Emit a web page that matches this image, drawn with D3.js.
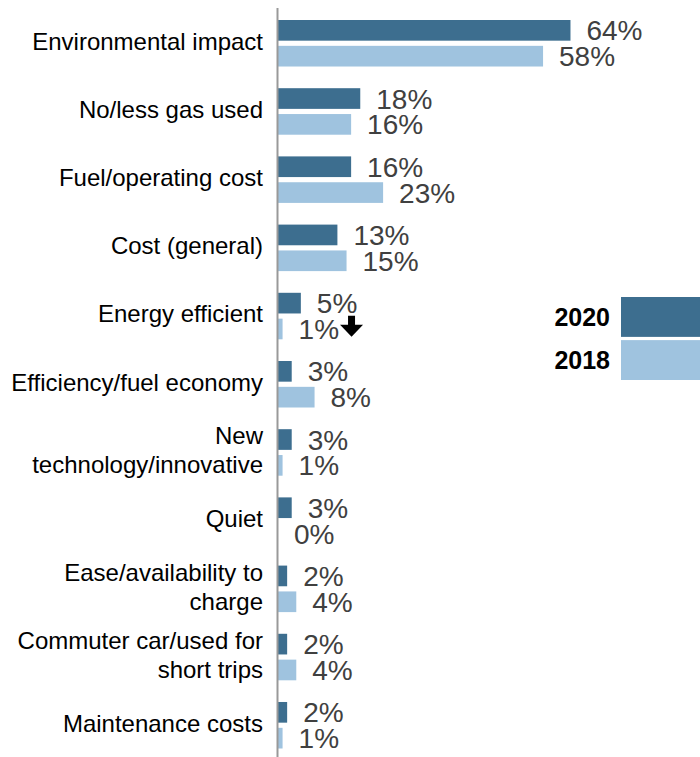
<!DOCTYPE html>
<html>
<head>
<meta charset="utf-8">
<script src="https://cdn.jsdelivr.net/npm/d3@7"></script>
<style>
  html, body { margin: 0; padding: 0; background: #fff; }
  svg { display: block; }
</style>
</head>
<body>
<svg id="chart" width="700" height="757"></svg>
<script>
// Reasons given for choosing an electric vehicle, 2020 vs 2018
const categories = [
  "Environmental impact",
  "No/less gas used",
  "Fuel/operating cost",
  "Cost (general)",
  "Energy efficient",
  "Efficiency/fuel economy",
  "New\ntechnology/innovative",
  "Quiet",
  "Ease/availability to\ncharge",
  "Commuter car/used for\nshort trips",
  "Maintenance costs"
];
const seriesNames = ["2020", "2018"];
const values2020 = [64, 18, 16, 13, 5, 3, 3, 3, 2, 2, 2];
const values2018 = [58, 16, 23, 15, 1, 8, 1, 0, 4, 4, 1];
// categories whose change is flagged with a downward arrow (2018 value)
const flaggedDown = ["Energy efficient"];

const colors = { "2020": "#3d6e8f", "2018": "#9fc3df" };
const font = "'Liberation Sans', Arial, Helvetica, sans-serif";

const svg = d3.select("#chart");

const axisX = 278;
const x = d3.scaleLinear().domain([0, 100]).range([axisX, axisX + 457]);

const y = d3.scaleBand()
  .domain(categories)
  .range([20, 748.5])
  .paddingInner(0.318)
  .paddingOuter(0);

const ySub = d3.scaleBand()
  .domain(seriesNames)
  .range([0, y.bandwidth()])
  .paddingInner(0.2);

const rows = categories.map((c, i) => ({
  category: c,
  values: [
    { series: "2020", value: values2020[i] },
    { series: "2018", value: values2018[i] }
  ]
}));

const groups = svg.append("g").selectAll("g.row")
  .data(rows)
  .join("g")
  .attr("class", "row")
  .attr("transform", d => `translate(0,${y(d.category)})`);

groups.selectAll("rect")
  .data(d => d.values)
  .join("rect")
  .attr("x", x(0))
  .attr("y", d => ySub(d.series))
  .attr("width", d => x(d.value) - x(0))
  .attr("height", ySub.bandwidth())
  .attr("fill", d => colors[d.series]);

// value labels
const valueFs = 28;
groups.selectAll("text.val")
  .data(d => d.values.map(v => Object.assign({ category: d.category }, v)))
  .join("text")
  .attr("class", "val")
  .attr("x", d => x(d.value) + 16)
  .attr("y", d => ySub(d.series) + ySub.bandwidth() / 2 + valueFs * 0.36)
  .attr("font-family", font)
  .attr("font-size", valueFs)
  .attr("fill", "#404040")
  .text(d => d.value + "%");

// downward arrow after flagged 2018 labels
groups.filter(d => flaggedDown.includes(d.category))
  .each(function (d) {
    const v = d.values.find(s => s.series === "2018");
    const g = d3.select(this);
    const lbl = g.selectAll("text.val").filter(t => t.series === "2018");
    const w = lbl.node().getComputedTextLength();
    const ax = x(v.value) + 16 + w + 1;
    const ay = ySub("2018") - 3;
    const path = d3.path();
    path.moveTo(ax + 8, ay);
    path.lineTo(ax + 15, ay);
    path.lineTo(ax + 15, ay + 9);
    path.lineTo(ax + 23, ay + 9);
    path.lineTo(ax + 11.5, ay + 21);
    path.lineTo(ax + 0, ay + 9);
    path.lineTo(ax + 8, ay + 9);
    path.closePath();
    g.append("path").attr("d", path.toString()).attr("fill", "#000");
  });

// category labels
const catFs = 24;
const lineGap = 29;
const catLabels = svg.append("g").selectAll("text.cat")
  .data(categories)
  .join("text")
  .attr("class", "cat")
  .attr("text-anchor", "end")
  .attr("font-family", font)
  .attr("font-size", catFs)
  .attr("fill", "#000");

catLabels.each(function (c) {
  const lines = c.split("\n");
  const mid = y(c) + y.bandwidth() / 2 - 2;
  d3.select(this).selectAll("tspan")
    .data(lines)
    .join("tspan")
    .attr("x", 263)
    .attr("y", (l, k) => mid + (k - (lines.length - 1) / 2) * lineGap + catFs * 0.35)
    .text(l => l);
});

// vertical axis line
svg.append("line")
  .attr("x1", axisX - 0.5).attr("x2", axisX - 0.5)
  .attr("y1", 8).attr("y2", 757)
  .attr("stroke", "#999")
  .attr("stroke-width", 2);

// legend
const legend = svg.append("g");
const legendY = d3.scaleBand().domain(seriesNames).range([297, 380]).paddingInner(0.075);
legend.selectAll("rect")
  .data(seriesNames)
  .join("rect")
  .attr("x", 621)
  .attr("y", d => legendY(d))
  .attr("width", 90)
  .attr("height", legendY.bandwidth())
  .attr("fill", d => colors[d]);
legend.selectAll("text")
  .data(seriesNames)
  .join("text")
  .attr("x", 610)
  .attr("y", d => legendY(d) + legendY.bandwidth() / 2 + 25 * 0.36)
  .attr("text-anchor", "end")
  .attr("font-family", font)
  .attr("font-size", 25)
  .attr("font-weight", "bold")
  .attr("fill", "#000")
  .text(d => d);
</script>
</body>
</html>
